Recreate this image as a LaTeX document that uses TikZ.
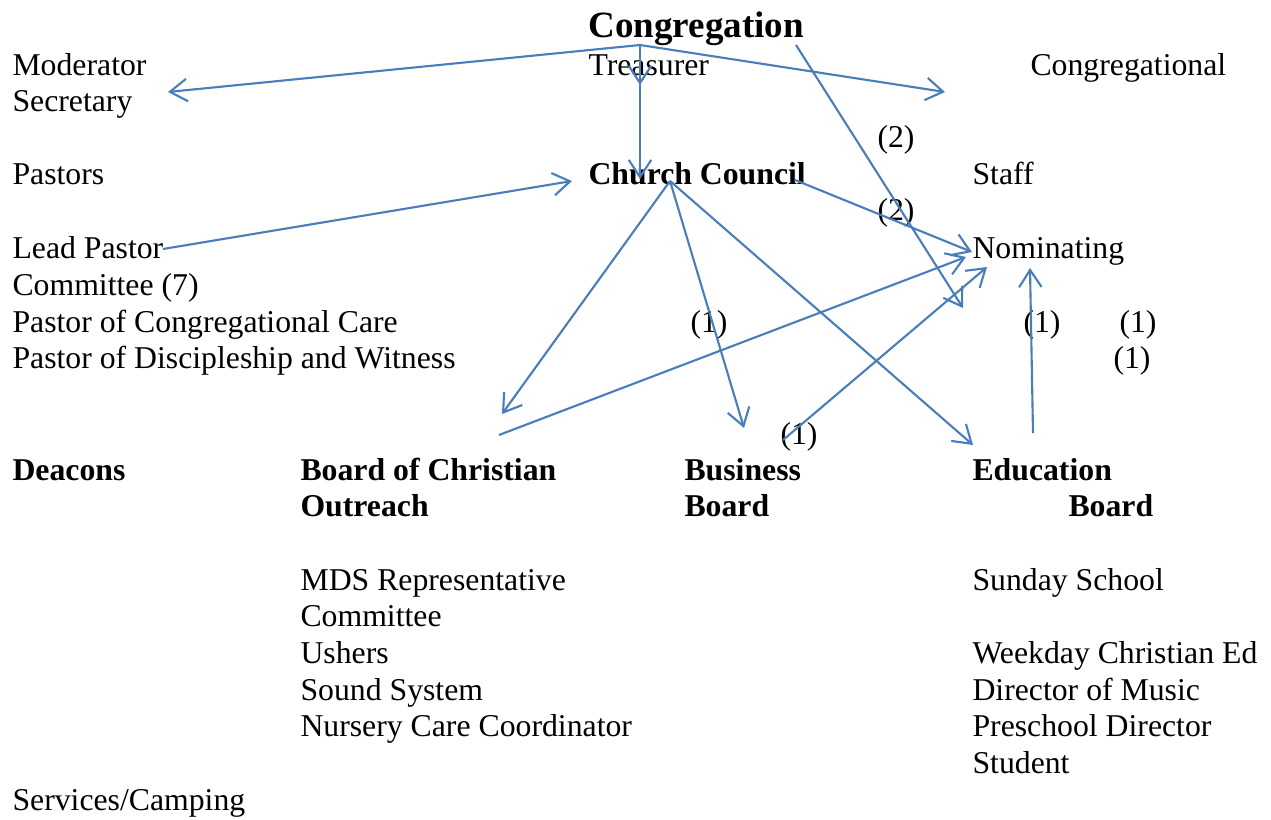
\documentclass[tikz,border=0pt]{standalone}
\usepackage{fontspec}
\setmainfont{Liberation Serif}
\usepackage{xcolor}
\usetikzlibrary{arrows.meta}

\definecolor{lineblue}{HTML}{4A7EBB}

\begin{document}
\begin{tikzpicture}[
  x=0.378pt, y=-0.378pt,
  font=\fontsize{12}{14}\selectfont,
  txt/.style={anchor=base west, inner sep=0pt},
  head/.style={txt, font=\fontsize{12}{14}\selectfont\bfseries},
  arr/.style={-{Straight Barb[length=6.5pt,width=8.5pt]}, draw=lineblue, line width=0.8pt}
]
  \useasboundingbox (0,0) rectangle (1271,819);

  % top level
  \node[txt, font=\fontsize{14}{17}\selectfont\bfseries] (cong) at (588,37) {Congregation};
  \node[txt] (moderator) at (12,75) {Moderator};
  \node[txt] (secretary) at (12,111) {Secretary};
  \node[txt] (treasurer) at (588,75) {Treasurer};
  \node[txt] (congl) at (1030,75) {Congregational};

  % council row
  \node[txt] (pastors) at (12,184) {Pastors};
  \node[head] (council) at (588,184) {Church Council};
  \node[txt] (staff) at (972,184) {Staff};
  \node[txt] (two-a) at (877,147) {(2)};
  \node[txt] (two-b) at (877,220) {(2)};

  % pastors
  \node[txt] (leadpastor) at (12,258) {Lead Pastor};
  \node[txt] (nominating) at (972,258) {Nominating};
  \node[txt] (committee) at (12,295) {Committee (7)};
  \node[txt] (carepastor) at (12,332) {Pastor of Congregational Care};
  \node[txt] (discpastor) at (12,368) {Pastor of Discipleship and Witness};
  \node[txt] (one-a) at (690,332) {(1)};
  \node[txt] (one-b) at (1023,332) {(1)};
  \node[txt] (one-c) at (1119,332) {(1)};
  \node[txt] (one-d) at (1113,368) {(1)};
  \node[txt] (one-e) at (780,444) {(1)};

  % boards
  \node[head] (deacons) at (12,480) {Deacons};
  \node[head] (outreach) at (300,480) {Board of Christian};
  \node[head] (outreach2) at (300,516) {Outreach};
  \node[head] (business) at (684,480) {Business};
  \node[head] (business2) at (684,516) {Board};
  \node[head] (education) at (972,480) {Education};
  \node[head] (education2) at (1068,516) {Board};

  % outreach list
  \node[txt] (mds) at (300,590) {MDS Representative};
  \node[txt] (mds2) at (300,626) {Committee};
  \node[txt] (ushers) at (300,663) {Ushers};
  \node[txt] (sound) at (300,700) {Sound System};
  \node[txt] (nursery) at (300,736) {Nursery Care Coordinator};

  % education list
  \node[txt] (sunday) at (972,590) {Sunday School};
  \node[txt] (weekday) at (972,663) {Weekday Christian Ed};
  \node[txt] (music) at (972,700) {Director of Music};
  \node[txt] (preschool) at (972,736) {Preschool Director};
  \node[txt] (student) at (972,773) {Student};
  \node[txt] (camping) at (12,810) {Services/Camping};

  % line ends
  \coordinate (cong-hub) at (640,45);
  \coordinate (cong-r) at (796,45);
  \coordinate (cc-hub) at (670,181);
  \coordinate (cc-r) at (795,180);
  \coordinate (lp-out) at (163,249);
  \coordinate (or-out) at (499,435);
  \coordinate (bb-out) at (783,440);
  \coordinate (eb-out) at (1033,433);
  \coordinate (sec-in) at (168,92);
  \coordinate (congl-in) at (945,92);
  \coordinate (tr-in) at (640,85);
  \coordinate (cc-in) at (640,179);
  \coordinate (cc-w) at (572,181);
  \coordinate (nom-a) at (972,252);
  \coordinate (nom-b) at (966,257);
  \coordinate (nom-c) at (987,267);
  \coordinate (nom-d) at (1030,268);
  \coordinate (nom-e) at (963,308);
  \coordinate (or-in) at (502,414);
  \coordinate (bb-in) at (744,428);
  \coordinate (eb-in) at (973,445);

  \draw[arr] (cong-hub) -- (sec-in);
  \draw[arr] (cong-hub) -- (congl-in);
  \draw[arr] (cong-hub) -- (tr-in);
  \draw[arr] (cong-hub) -- (cc-in);
  \draw[arr] (cong-r) -- (nom-e);
  \draw[arr] (lp-out) -- (cc-w);
  \draw[arr] (cc-r) -- (nom-a);
  \draw[arr] (cc-hub) -- (or-in);
  \draw[arr] (cc-hub) -- (bb-in);
  \draw[arr] (cc-hub) -- (eb-in);
  \draw[arr] (or-out) -- (nom-b);
  \draw[arr] (bb-out) -- (nom-c);
  \draw[arr] (eb-out) -- (nom-d);
\end{tikzpicture}
\end{document}
